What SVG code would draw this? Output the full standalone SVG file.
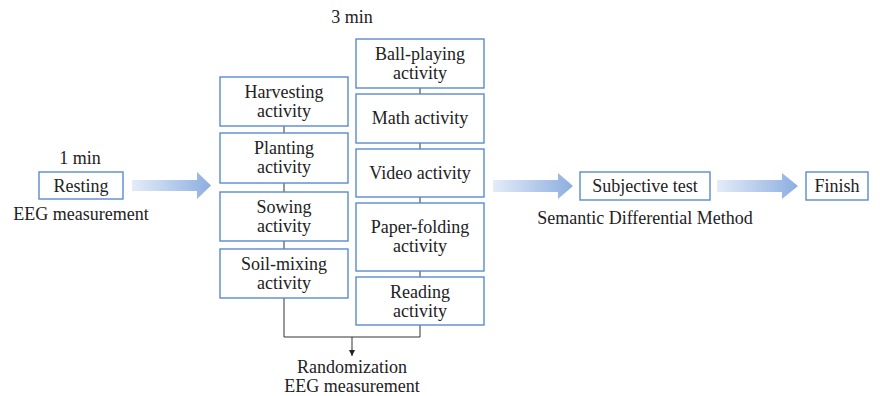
<svg xmlns="http://www.w3.org/2000/svg" width="880" height="396" viewBox="0 0 880 396" font-family="'Liberation Serif', 'DejaVu Serif', serif">
<defs>
<style>
text{font-family:"Liberation Serif","DejaVu Serif",serif;font-size:18px;fill:#222;text-anchor:middle}
.box{fill:#fff;stroke:#5b8bd0;stroke-width:1.4}
.ln{fill:none;stroke:#333;stroke-width:1}
</style>
<linearGradient id="g" x1="0" y1="0" x2="1" y2="0">
<stop offset="0" stop-color="#e4ecf8"/>
<stop offset="1" stop-color="#8caee0"/>
</linearGradient>
<marker id="ah" markerWidth="8" markerHeight="8" refX="6" refY="4" orient="auto" markerUnits="userSpaceOnUse">
<path d="M0,1 L6,4 L0,7 Z" fill="#222"/>
</marker>
</defs>
<rect width="880" height="396" fill="#fff"/>

<text x="80" y="164">1 min</text>
<text x="352" y="23">3 min</text>

<g id="connectors">
<path class="ln" d="M284,126V133M284,183V192M284,241V249"/>
<path class="ln" d="M420,88V94M420,143V149M420,197V203M420,271V277"/>
<path class="ln" d="M284,298V337H420V325"/>
<path class="ln" d="M352,337V356" marker-end="url(#ah)"/>
<path d="M132,180H197V172L211,185.5L197,199V191H132Z" fill="url(#g)"/>
<path d="M493,180H558V173L573,186L558,199V192H493Z" fill="url(#g)"/>
<path d="M717,180H782V173L798,186L782,199V192H717Z" fill="url(#g)"/>
</g>

<g id="resting"><rect class="box" x="39" y="172" width="84" height="27"/><text x="81" y="191.5">Resting</text></g>
<text x="81" y="220">EEG measurement</text>

<g id="harvesting"><rect class="box" x="220" y="77" width="128" height="49"/><text x="284" y="98">Harvesting</text><text x="284" y="117">activity</text></g>
<g id="planting"><rect class="box" x="220" y="133" width="128" height="50"/><text x="284" y="154">Planting</text><text x="284" y="173">activity</text></g>
<g id="sowing"><rect class="box" x="220" y="192" width="128" height="49"/><text x="284" y="213">Sowing</text><text x="284" y="232">activity</text></g>
<g id="soil-mixing"><rect class="box" x="220" y="249" width="128" height="49"/><text x="284" y="270">Soil-mixing</text><text x="284" y="289">activity</text></g>

<g id="ball-playing"><rect class="box" x="356" y="39" width="128" height="49"/><text x="420" y="60">Ball-playing</text><text x="420" y="79">activity</text></g>
<g id="math"><rect class="box" x="356" y="94" width="128" height="49"/><text x="420" y="124">Math activity</text></g>
<g id="video"><rect class="box" x="356" y="149" width="128" height="48"/><text x="420" y="179">Video activity</text></g>
<g id="paper-folding"><rect class="box" x="356" y="203" width="128" height="68"/><text x="420" y="233">Paper-folding</text><text x="420" y="252">activity</text></g>
<g id="reading"><rect class="box" x="356" y="277" width="128" height="48"/><text x="420" y="298">Reading</text><text x="420" y="317">activity</text></g>

<text x="352" y="373">Randomization</text>
<text x="352" y="392">EEG measurement</text>

<g id="subjective"><rect class="box" x="580" y="172" width="130" height="28"/><text x="645" y="192">Subjective test</text></g>
<text x="645" y="224">Semantic Differential Method</text>
<g id="finish"><rect class="box" x="806" y="172" width="62" height="28"/><text x="837" y="192">Finish</text></g>
</svg>
